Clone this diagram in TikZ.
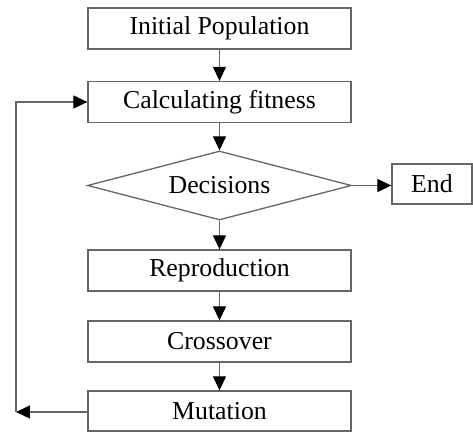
\documentclass[tikz,border=0pt]{standalone}
\usepackage{fontspec}
\setmainfont{Liberation Serif}
\usetikzlibrary{shapes.geometric,arrows.meta}
\begin{document}
\begin{tikzpicture}[x=0.5pt,y=-0.5pt,
  box/.style={draw=black!60, line width=0.65pt, rectangle, minimum width=131.5pt, minimum height=20.5pt, inner sep=0pt, font=\fontsize{12.9}{15}\selectfont},
  dec/.style={draw=black!60, line width=0.65pt, diamond, aspect=3.8, minimum width=132pt, minimum height=34.5pt, inner sep=0pt, font=\fontsize{12.9}{15}\selectfont},
  arr/.style={draw=black!60, line width=0.65pt, -{Triangle[length=7pt,width=6.5pt,black]}}]
\useasboundingbox (0,0) rectangle (473,432);
\node[box] (init) at (219.5,28.5) {Initial Population};
\node[box] (calc) at (219.5,102) {Calculating fitness};
\node[dec] (dec) at (219.5,185.5) {Decisions};
\node[box, minimum width=40pt, minimum height=20pt] (end) at (432,184) {End};
\node[box] (repro) at (219.5,270.5) {Reproduction};
\node[box] (cross) at (219.5,341.5) {Crossover};
\node[box, minimum height=20pt] (mut) at (219.5,411) {Mutation};
\coordinate (c1) at (16,412);
\draw[arr] (init) -- (calc);
\draw[arr] (calc) -- (dec);
\draw[arr] (dec.east) -- (end.west |- dec.east);
\draw[arr] (dec) -- (repro);
\draw[arr] (repro) -- (cross);
\draw[arr] (cross) -- (mut);
\draw[arr] (mut.west |- c1) -- (c1);
\draw[arr] (c1) |- (calc.west);
\end{tikzpicture}
\end{document}
